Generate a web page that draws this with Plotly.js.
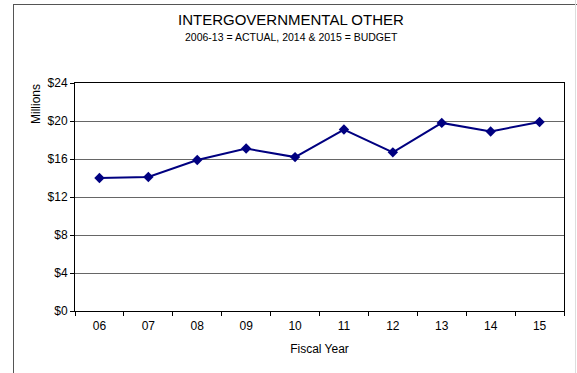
<!DOCTYPE html>
<html>
<head>
<meta charset="utf-8">
<script src="https://cdn.plot.ly/plotly-3.0.1.min.js"></script>
<style>
html,body{margin:0;padding:0;background:#fff;}
#wrap{position:relative;width:577px;height:373px;overflow:hidden;}
#chart{position:absolute;left:0;top:0;width:577px;height:373px;}
#frame{position:absolute;left:13px;top:4px;width:600px;height:400px;border-left:1px solid #555;border-top:1px solid #555;pointer-events:none;}
#rline{position:absolute;left:575px;top:0;width:1px;height:373px;background:#ddd;pointer-events:none;}
</style>
</head>
<body>
<div id="wrap">
<div id="chart"></div>
<div id="frame"></div>
<div id="rline"></div>
</div>
<script>
var years = ["06","07","08","09","10","11","12","13","14","15"];
var values = [14.0, 14.1, 15.9, 17.1, 16.2, 19.1, 16.7, 19.8, 18.9, 19.9];
var yTickVals = [0, 4, 8, 12, 16, 20, 24];
var yTickText = ["$0", "$4", "$8", "$12", "$16", "$20", "$24"];

var trace = {
  x: years,
  y: values,
  type: "scatter",
  mode: "lines+markers",
  line: {color: "#000080", width: 2},
  marker: {symbol: "diamond", size: 8, color: "#000080"},
  hoverinfo: "none"
};

var plotTop = 83, plotBottom = 311, plotLeft = 75, plotRight = 564;
function py(px) { return (plotBottom - px) / (plotBottom - plotTop); }
function pxx(px) { return (px - plotLeft) / (plotRight - plotLeft); }

var layout = {
  width: 577,
  height: 373,
  margin: {l: plotLeft, r: 577 - plotRight, t: plotTop, b: 373 - plotBottom},
  paper_bgcolor: "#fff",
  plot_bgcolor: "#fff",
  font: {family: "Liberation Sans, Arial, sans-serif", color: "#000", size: 12},
  showlegend: false,
  xaxis: {
    type: "category",
    range: [-0.5, 9.5],
    showline: true, linecolor: "#000", linewidth: 1, mirror: true,
    showgrid: false,
    ticks: "outside", ticklen: 4, tickcolor: "#000",
    tickson: "boundaries",
    ticklabelstandoff: 4,
    tickfont: {size: 12},
    title: {text: "Fiscal Year", font: {size: 12}, standoff: 12},
    zeroline: false
  },
  yaxis: {
    range: [0, 24],
    tickvals: yTickVals,
    ticktext: yTickText,
    showline: true, linecolor: "#000", linewidth: 1, mirror: true,
    showgrid: true, gridcolor: "#666", gridwidth: 1,
    ticks: "outside", ticklen: 4, tickcolor: "#000",
    tickfont: {size: 12},
    zeroline: false
  },
  annotations: [
    {text: "INTERGOVERNMENTAL OTHER", xref: "paper", yref: "paper", x: pxx(291), y: py(19),
     showarrow: false, xanchor: "center", yanchor: "middle", font: {size: 15}},
    {text: "2006-13 = ACTUAL, 2014 & 2015 = BUDGET", xref: "paper", yref: "paper", x: pxx(291), y: py(37),
     showarrow: false, xanchor: "center", yanchor: "middle", font: {size: 10.5}},
    {text: "Millions", xref: "paper", yref: "paper", x: pxx(36), xanchor: "center",
     y: py(104), yanchor: "middle", textangle: -90, showarrow: false, font: {size: 12}}
  ]
};

Plotly.newPlot("chart", [trace], layout, {staticPlot: true, displayModeBar: false});
</script>
</body>
</html>
